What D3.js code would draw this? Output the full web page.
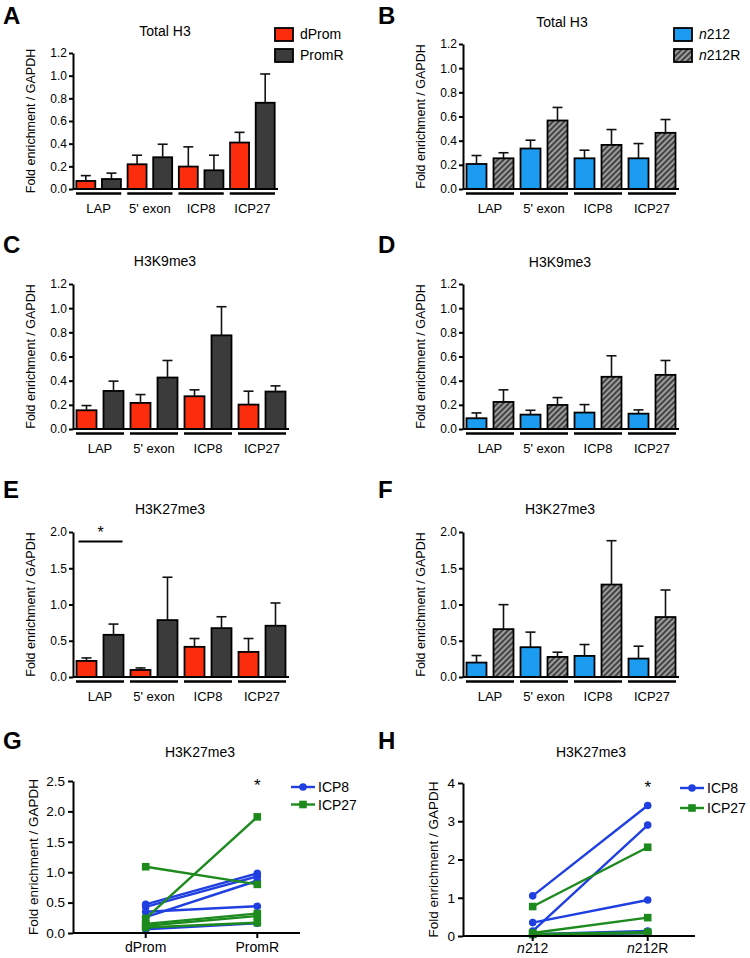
<!DOCTYPE html>
<html>
<head>
<meta charset="utf-8">
<script src="https://cdn.jsdelivr.net/npm/d3@7"></script>
<style>
  body { margin: 0; background: #fff; }
  svg { font-family: Arial, "Liberation Sans", Helvetica, sans-serif; }
</style>
</head>
<body>
<svg id="fig" width="750" height="958"></svg>
<script>
// ---- data ----
const groups = ["LAP", "5' exon", "ICP8", "ICP27"];

// bar means and SEM (upper error only)
const h3_dProm = [0.071, 0.218, 0.198, 0.41];
const h3_dProm_sem = [0.047, 0.08, 0.174, 0.09];
const h3_PromR = [0.088, 0.28, 0.165, 0.761];
const h3_PromR_sem = [0.052, 0.115, 0.133, 0.254];

const h3_n212 = [0.207, 0.335, 0.254, 0.254];
const h3_n212_sem = [0.07, 0.069, 0.067, 0.122];
const h3_n212R = [0.254, 0.567, 0.365, 0.465];
const h3_n212R_sem = [0.046, 0.108, 0.127, 0.11];

const k9_dProm = [0.155, 0.216, 0.271, 0.202];
const k9_dProm_sem = [0.039, 0.069, 0.053, 0.111];
const k9_PromR = [0.315, 0.426, 0.775, 0.31];
const k9_PromR_sem = [0.081, 0.141, 0.237, 0.047];

const k9_n212 = [0.089, 0.119, 0.136, 0.127];
const k9_n212_sem = [0.044, 0.036, 0.066, 0.031];
const k9_n212R = [0.224, 0.199, 0.432, 0.448];
const k9_n212R_sem = [0.1, 0.061, 0.174, 0.119];

const k27_dProm = [0.222, 0.097, 0.416, 0.346];
const k27_dProm_sem = [0.041, 0.028, 0.115, 0.185];
const k27_PromR = [0.582, 0.785, 0.674, 0.707];
const k27_PromR_sem = [0.148, 0.591, 0.157, 0.314];

const k27_n212 = [0.199, 0.411, 0.291, 0.254];
const k27_n212_sem = [0.097, 0.208, 0.157, 0.171];
const k27_n212R = [0.66, 0.277, 1.275, 0.827];
const k27_n212R_sem = [0.338, 0.065, 0.605, 0.373];

// paired points (G: dProm -> PromR, H: n212 -> n212R)
const g_icp8_dProm = [0.47, 0.43, 0.26, 0.35, 0.06];
const g_icp8_PromR = [0.98, 0.93, 0.86, 0.44, 0.16];
const g_icp27_dProm = [1.09, 0.24, 0.15, 0.12, 0.09];
const g_icp27_PromR = [0.80, 1.91, 0.32, 0.28, 0.17];

const h_icp8_n212 = [1.05, 0.13, 0.35, 0.05, 0.03];
const h_icp8_n212R = [3.41, 2.90, 0.94, 0.13, 0.07];
const h_icp27_n212 = [0.77, 0.08, 0.05, 0.04];
const h_icp27_n212R = [2.32, 0.48, 0.10, 0.08];

const red = "#fb2d0d", dark = "#3b3b3b", blue = "#1c9cf0";
const lineBlue = "#1f3fe0", lineGreen = "#1c8a1c";

const svg = d3.select("#fig");

const defs = svg.append("defs");
const pat = defs.append("pattern")
    .attr("id", "hatch")
    .attr("patternUnits", "userSpaceOnUse")
    .attr("width", 4).attr("height", 4)
    .attr("patternTransform", "rotate(45)");
pat.append("rect").attr("width", 4).attr("height", 4).attr("fill", "#9c9c9c");
pat.append("line").attr("x1", 1).attr("y1", 0).attr("x2", 1).attr("y2", 4)
    .attr("stroke", "#333").attr("stroke-width", 1.7);

function letter(ch, x, y) {
    svg.append("text")
        .attr("x", x).attr("y", y)
        .style("font-size", "24px").style("font-weight", "bold")
        .text(ch);
}

function yLabel(g, x, yMid, size) {
    g.append("text")
        .attr("transform", `translate(${x},${yMid}) rotate(-90)`)
        .attr("text-anchor", "middle")
        .attr("dy", "0.35em")
        .style("font-size", size)
        .text("Fold enrichment / GAPDH");
}

function styleAxis(ax, fontSize) {
    ax.select(".domain").attr("stroke", "#000").attr("stroke-width", 2);
    ax.selectAll(".tick line").attr("stroke", "#000").attr("stroke-width", 2);
    ax.selectAll(".tick text").style("font-size", fontSize).attr("fill", "#000")
        .attr("font-family", null);
}

function barPanel(cfg) {
    const g = svg.append("g");
    const x = d3.scaleBand().domain(groups).range([cfg.x0, cfg.x1]);
    const inner = d3.scaleBand().domain([0, 1]).range([0, x.bandwidth()])
        .paddingInner(0.26).paddingOuter(0.13);
    const y = d3.scaleLinear().domain([0, cfg.max]).range([cfg.y0, cfg.yTop]);

    // bars
    cfg.series.forEach((s, si) => {
        g.selectAll(null).data(s.vals).enter().append("rect")
            .attr("x", (d, i) => x(groups[i]) + inner(si))
            .attr("y", d => y(d))
            .attr("width", inner.bandwidth())
            .attr("height", d => y(0) - y(d))
            .attr("fill", s.fill)
            .attr("stroke", "#000").attr("stroke-width", 1.8);
        // error bars
        const cx = (d, i) => x(groups[i]) + inner(si) + inner.bandwidth() / 2;
        g.selectAll(null).data(s.vals).enter().append("line")
            .attr("x1", cx).attr("x2", cx)
            .attr("y1", d => y(d)).attr("y2", (d, i) => y(d + s.sem[i]))
            .attr("stroke", "#111").attr("stroke-width", 1.6);
        g.selectAll(null).data(s.vals).enter().append("line")
            .attr("x1", (d, i) => cx(d, i) - 5).attr("x2", (d, i) => cx(d, i) + 5)
            .attr("y1", (d, i) => y(d + s.sem[i])).attr("y2", (d, i) => y(d + s.sem[i]))
            .attr("stroke", "#111").attr("stroke-width", 1.6);
    });

    // x baseline
    g.append("line")
        .attr("x1", cfg.x0).attr("x2", cfg.x1)
        .attr("y1", y(0)).attr("y2", y(0))
        .attr("stroke", "#000").attr("stroke-width", 2);

    // y axis
    const ax = g.append("g")
        .attr("transform", `translate(${cfg.x0},0)`)
        .call(d3.axisLeft(y)
            .tickValues(d3.range(0, cfg.max + 1e-9, cfg.step))
            .tickFormat(d3.format(".1f"))
            .tickSize(4).tickPadding(2).tickSizeOuter(0));
    styleAxis(ax, "12px");

    // group underlines and names
    g.selectAll(null).data(groups).enter().append("line")
        .attr("x1", d => x(d) + 3).attr("x2", d => x(d) + x.bandwidth() - 3)
        .attr("y1", y(0) + 4.5).attr("y2", y(0) + 4.5)
        .attr("stroke", "#000").attr("stroke-width", 2.4);
    g.selectAll(null).data(groups).enter().append("text")
        .attr("x", d => x(d) + x.bandwidth() / 2)
        .attr("y", y(0) + 23.5)
        .attr("text-anchor", "middle")
        .style("font-size", "13px")
        .text(d => d);

    g.append("text")
        .attr("x", cfg.titleX).attr("y", cfg.titleY)
        .attr("text-anchor", "middle")
        .style("font-size", "14px")
        .text(cfg.title);

    yLabel(g, cfg.x0 - 42, (cfg.y0 + cfg.yTop) / 2, "12.5px");

    if (cfg.legend) {
        cfg.series.forEach((s, si) => {
            const ly = cfg.legend.y + si * 21;
            g.append("rect")
                .attr("x", cfg.legend.x).attr("y", ly)
                .attr("width", 18).attr("height", 13)
                .attr("fill", s.fill).attr("stroke", "#000").attr("stroke-width", 1.8);
            const t = g.append("text")
                .attr("x", cfg.legend.x + 25).attr("y", ly + 11)
                .style("font-size", "14px");
            if (s.italicN) {
                t.append("tspan").style("font-style", "italic").text("n");
                t.append("tspan").text(s.name.slice(1));
            } else {
                t.text(s.name);
            }
        });
    }

    if (cfg.sig) {
        const sx1 = x(cfg.sig.group) + inner(0) + 2;
        const sx2 = x(cfg.sig.group) + inner(1) + inner.bandwidth() - 1;
        g.append("line")
            .attr("x1", sx1).attr("x2", sx2)
            .attr("y1", y(cfg.sig.level)).attr("y2", y(cfg.sig.level))
            .attr("stroke", "#000").attr("stroke-width", 2);
        g.append("text")
            .attr("x", (sx1 + sx2) / 2).attr("y", y(cfg.sig.level) - 3)
            .attr("text-anchor", "middle")
            .style("font-size", "16px")
            .text("*");
    }
}

function linePanel(cfg) {
    const g = svg.append("g");
    const x = d3.scalePoint().domain(cfg.cats).range([cfg.p0, cfg.p1]);
    const y = d3.scaleLinear().domain([0, cfg.max]).range([cfg.y0, cfg.yTop]);

    cfg.series.forEach(s => {
        const pairs = s.a.map((v, i) => [v, s.b[i]]);
        const line = d3.line()
            .x((d, i) => x(cfg.cats[i]))
            .y(d => y(d));
        g.selectAll(null).data(pairs).enter().append("path")
            .attr("d", p => line(p))
            .attr("fill", "none")
            .attr("stroke", s.color).attr("stroke-width", 2.4);
        pairs.forEach(p => {
            p.forEach((v, i) => {
                if (s.shape === "circle") {
                    g.append("circle")
                        .attr("cx", x(cfg.cats[i])).attr("cy", y(v)).attr("r", 3.8)
                        .attr("fill", s.color);
                } else {
                    g.append("rect")
                        .attr("x", x(cfg.cats[i]) - 3.8).attr("y", y(v) - 3.8)
                        .attr("width", 7.6).attr("height", 7.6)
                        .attr("fill", s.color);
                }
            });
        });
    });

    // axes
    g.append("line")
        .attr("x1", cfg.x0).attr("x2", cfg.x1)
        .attr("y1", y(0)).attr("y2", y(0))
        .attr("stroke", "#000").attr("stroke-width", 2);
    g.selectAll(null).data(cfg.cats).enter().append("line")
        .attr("x1", d => x(d)).attr("x2", d => x(d))
        .attr("y1", y(0)).attr("y2", y(0) + 5)
        .attr("stroke", "#000").attr("stroke-width", 2);
    const labels = g.selectAll(null).data(cfg.cats).enter().append("text")
        .attr("x", d => x(d)).attr("y", cfg.labelY)
        .attr("text-anchor", "middle")
        .style("font-size", "14px");
    labels.each(function (d) {
        const t = d3.select(this);
        if (cfg.italicN) {
            t.append("tspan").style("font-style", "italic").text("n");
            t.append("tspan").text(d.slice(1));
        } else {
            t.text(d);
        }
    });

    const ax = g.append("g")
        .attr("transform", `translate(${cfg.x0},0)`)
        .call(d3.axisLeft(y)
            .tickValues(d3.range(0, cfg.max + 1e-9, cfg.step))
            .tickFormat(d3.format(cfg.fmt))
            .tickSize(5).tickPadding(3).tickSizeOuter(0));
    styleAxis(ax, "13.5px");

    g.append("text")
        .attr("x", cfg.titleX).attr("y", cfg.titleY)
        .attr("text-anchor", "middle")
        .style("font-size", "14px")
        .text("H3K27me3");

    yLabel(g, cfg.labelX, (cfg.y0 + cfg.yTop) / 2, "13.5px");

    // star over the right category
    g.append("text")
        .attr("x", x(cfg.cats[1])).attr("y", cfg.yTop + 10)
        .attr("text-anchor", "middle")
        .style("font-size", "17px")
        .text("*");

    // legend
    cfg.series.forEach((s, si) => {
        const ly = cfg.legend.y + si * cfg.legend.gap;
        g.append("line")
            .attr("x1", cfg.legend.x).attr("x2", cfg.legend.x + 24)
            .attr("y1", ly).attr("y2", ly)
            .attr("stroke", s.color).attr("stroke-width", 2.4);
        if (s.shape === "circle") {
            g.append("circle").attr("cx", cfg.legend.x + 12).attr("cy", ly).attr("r", 3.8)
                .attr("fill", s.color);
        } else {
            g.append("rect").attr("x", cfg.legend.x + 8.2).attr("y", ly - 3.8)
                .attr("width", 7.6).attr("height", 7.6).attr("fill", s.color);
        }
        g.append("text")
            .attr("x", cfg.legend.x + 27).attr("y", ly + 5)
            .style("font-size", "14px")
            .text(s.name);
    });
}

// ---- panels ----
letter("A", 3, 24);
barPanel({
    x0: 73, x1: 278, y0: 189, yTop: 53, max: 1.2, step: 0.2,
    title: "Total H3", titleX: 165, titleY: 36,
    series: [
        { name: "dProm", vals: h3_dProm, sem: h3_dProm_sem, fill: red },
        { name: "PromR", vals: h3_PromR, sem: h3_PromR_sem, fill: dark }
    ],
    legend: { x: 275, y: 28 }
});

letter("B", 378, 24);
barPanel({
    x0: 463, x1: 679, y0: 189, yTop: 44, max: 1.2, step: 0.2,
    title: "Total H3", titleX: 562, titleY: 27,
    series: [
        { name: "n212", vals: h3_n212, sem: h3_n212_sem, fill: blue, italicN: true },
        { name: "n212R", vals: h3_n212R, sem: h3_n212R_sem, fill: "url(#hatch)", italicN: true }
    ],
    legend: { x: 674, y: 28 }
});

letter("C", 3, 253);
barPanel({
    x0: 73, x1: 289, y0: 429, yTop: 284, max: 1.2, step: 0.2,
    title: "H3K9me3", titleX: 165, titleY: 266,
    series: [
        { name: "dProm", vals: k9_dProm, sem: k9_dProm_sem, fill: red },
        { name: "PromR", vals: k9_PromR, sem: k9_PromR_sem, fill: dark }
    ]
});

letter("D", 378, 253);
barPanel({
    x0: 463, x1: 679, y0: 429, yTop: 284, max: 1.2, step: 0.2,
    title: "H3K9me3", titleX: 560, titleY: 267,
    series: [
        { name: "n212", vals: k9_n212, sem: k9_n212_sem, fill: blue },
        { name: "n212R", vals: k9_n212R, sem: k9_n212R_sem, fill: "url(#hatch)" }
    ]
});

letter("E", 3, 498);
barPanel({
    x0: 73, x1: 289, y0: 677, yTop: 532, max: 2.0, step: 0.5,
    title: "H3K27me3", titleX: 170, titleY: 514,
    series: [
        { name: "dProm", vals: k27_dProm, sem: k27_dProm_sem, fill: red },
        { name: "PromR", vals: k27_PromR, sem: k27_PromR_sem, fill: dark }
    ],
    sig: { group: "LAP", level: 1.87 }
});

letter("F", 378, 498);
barPanel({
    x0: 463, x1: 679, y0: 677, yTop: 532, max: 2.0, step: 0.5,
    title: "H3K27me3", titleX: 560, titleY: 514,
    series: [
        { name: "n212", vals: k27_n212, sem: k27_n212_sem, fill: blue },
        { name: "n212R", vals: k27_n212R, sem: k27_n212R_sem, fill: "url(#hatch)" }
    ]
});

letter("G", 3, 749);
linePanel({
    cats: ["dProm", "PromR"], italicN: false,
    x0: 73, x1: 300, p0: 145.7, p1: 257.3,
    y0: 933, yTop: 781, max: 2.5, step: 0.5, fmt: ".1f",
    titleX: 200, titleY: 757, labelX: 33, labelY: 952,
    series: [
        { name: "ICP8", a: g_icp8_dProm, b: g_icp8_PromR, color: lineBlue, shape: "circle" },
        { name: "ICP27", a: g_icp27_dProm, b: g_icp27_PromR, color: lineGreen, shape: "square" }
    ],
    legend: { x: 291, y: 787, gap: 17.5 }
});

letter("H", 378, 749);
linePanel({
    cats: ["n212", "n212R"], italicN: true,
    x0: 463, x1: 695, p0: 532.7, p1: 647.7,
    y0: 936, yTop: 783, max: 4, step: 1, fmt: "d",
    titleX: 591, titleY: 757, labelX: 433, labelY: 953,
    series: [
        { name: "ICP8", a: h_icp8_n212, b: h_icp8_n212R, color: lineBlue, shape: "circle" },
        { name: "ICP27", a: h_icp27_n212, b: h_icp27_n212R, color: lineGreen, shape: "square" }
    ],
    legend: { x: 680, y: 788, gap: 20 }
});
</script>
</body>
</html>
